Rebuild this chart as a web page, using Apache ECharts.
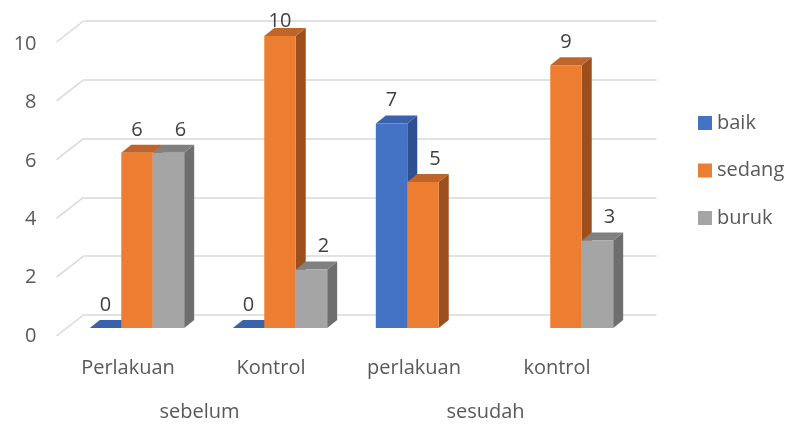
<!DOCTYPE html>
<html>
<head>
<meta charset="utf-8">
<script src="https://cdn.jsdelivr.net/npm/echarts@6/dist/echarts.min.js"></script>
<style>
  html, body { margin: 0; padding: 0; background: #ffffff; }
  #chart { width: 787px; height: 424px; }
</style>
</head>
<body>
<div id="chart"></div>
<script>
// Categories and grouping
const categories = ['Perlakuan', 'Kontrol', 'perlakuan', 'kontrol'];
const groups = ['sebelum', 'sesudah'];
const seriesNames = ['baik', 'sedang', 'buruk'];

// Series values (null = no bar)
const baik = [0, 0, 7, null];
const sedang = [6, 10, 5, 9];
const buruk = [6, 2, null, 3];
const seriesValues = [baik, sedang, buruk];

// Value-axis ticks
const yTicks = [0, 2, 4, 6, 8, 10];

// Face colours of the extruded bars: front, side, top
const faces = [
  { front: '#4472C4', side: '#2E5090', top: '#3A62AC' },
  { front: '#ED7D31', side: '#9C4F1D', top: '#C0652A' },
  { front: '#A5A5A5', side: '#6E6E6E', top: '#808080' }
];

// Extrusion vector of each bar (right / up)
const DX = 10, DY = -8;
// Vector from the back wall to the front edge of the floor
const WALL_DX = -27, WALL_DY = 21;

const FONT = '"Open Sans", "Liberation Sans", sans-serif';

function barRenderer(sIdx) {
  return function (params, api) {
    const cat = api.value(0);
    const v = api.value(1);
    if (v == null || isNaN(v)) return null;
    const base = api.coord([cat, 0]);
    const tip = api.coord([cat, v]);
    const bw = api.size([1, 0])[0] * 0.22;
    const x0 = base[0] - 1.5 * bw + sIdx * bw;
    const x1 = x0 + bw;
    const yb = base[1];
    const yt = tip[1];
    const c = faces[sIdx];
    const children = [
      { type: 'polygon', shape: { points: [[x1, yt], [x1 + DX, yt + DY], [x1 + DX, yb + DY], [x1, yb]] },
        style: { fill: c.side } },
      { type: 'polygon', shape: { points: [[x0, yt], [x0 + DX, yt + DY], [x1 + DX, yt + DY], [x1, yt]] },
        style: { fill: c.top } }
    ];
    if (yb - yt > 0.5) {
      children.push({ type: 'rect', shape: { x: x0, y: yt, width: bw, height: yb - yt },
        style: { fill: c.front } });
    }
    // value label; nudged right when the neighbour on the left is as tall or taller
    const prev = sIdx > 0 ? seriesValues[sIdx - 1][cat] : null;
    const shift = (prev != null && prev >= v) ? 12 : 0;
    const ceiling = api.coord([cat, 10])[1] - 15;
    const ly = Math.max(yt - 23, ceiling);
    children.push({
      type: 'text',
      x: (x0 + x1) / 2 + shift,
      y: ly,
      style: {
        text: String(v),
        fill: '#404040',
        font: '20px ' + FONT,
        align: 'center', verticalAlign: 'middle',
        textAlign: 'center', textVerticalAlign: 'middle'
      }
    });
    return { type: 'group', children: children };
  };
}

function wallEdgeRenderer(params, api) {
  const p = api.coord([0, api.value(1)]);
  return {
    type: 'line',
    shape: { x1: p[0], y1: p[1], x2: p[0] + WALL_DX, y2: p[1] + WALL_DY },
    style: { stroke: '#D9D9D9', lineWidth: 1.5 }
  };
}

const chart = echarts.init(document.getElementById('chart'), null, { renderer: 'canvas' });

const barSeries = seriesNames.map(function (name, i) {
  return {
    name: name,
    type: 'custom',
    xAxisIndex: 0,
    yAxisIndex: 0,
    itemStyle: { color: faces[i].front },
    renderItem: barRenderer(i),
    encode: { x: 0, y: 1 },
    data: seriesValues[i].map(function (v, k) { return [k, v == null ? '-' : v]; }),
    z: 3
  };
});

chart.setOption({
  animation: false,
  backgroundColor: '#ffffff',
  grid: [
    // bar plane
    { left: 65.5, top: 36, width: 572, height: 292, outerBoundsMode: 'none' },
    // back wall
    { left: 83.5, top: 21, width: 573, height: 294, outerBoundsMode: 'none' },
    // front edge of the floor (axis labels)
    { left: 56.5, top: 44, width: 572, height: 292, outerBoundsMode: 'none' }
  ],
  legend: {
    data: seriesNames,
    orient: 'vertical',
    left: 693,
    top: 108,
    icon: 'rect',
    itemWidth: 14,
    itemHeight: 14,
    itemGap: 27.5,
    textStyle: { fontSize: 20, color: '#595959', fontFamily: FONT }
  },
  xAxis: [
    { gridIndex: 0, type: 'category', data: categories, show: false },
    { gridIndex: 1, type: 'value', min: 0, max: 1, show: false },
    { gridIndex: 2, type: 'category', data: categories, position: 'bottom',
      axisLine: { show: false }, axisTick: { show: false },
      axisLabel: { fontSize: 20, color: '#595959', fontFamily: FONT, margin: 22 } },
    { gridIndex: 2, type: 'category', data: groups, position: 'bottom',
      axisLine: { show: false }, axisTick: { show: false },
      axisLabel: { fontSize: 20, color: '#595959', fontFamily: FONT, margin: 66 } }
  ],
  yAxis: [
    { gridIndex: 0, type: 'value', min: 0, max: 10, show: false },
    { gridIndex: 1, type: 'value', min: 0, max: 10, interval: 2,
      axisLine: { show: false }, axisTick: { show: false }, axisLabel: { show: false },
      splitLine: { lineStyle: { color: '#D9D9D9', width: 1.5 } } },
    { gridIndex: 2, type: 'value', min: 0, max: 10, interval: 2,
      axisLine: { show: false }, axisTick: { show: false }, splitLine: { show: false },
      axisLabel: { fontSize: 20, color: '#595959', fontFamily: FONT, margin: 20 } }
  ],
  series: [
    {
      type: 'custom',
      xAxisIndex: 1,
      yAxisIndex: 1,
      silent: true,
      renderItem: wallEdgeRenderer,
      encode: { x: 0, y: 1 },
      data: yTicks.map(function (t) { return [0, t]; }),
      z: 1
    }
  ].concat(barSeries)
});
</script>
</body>
</html>
